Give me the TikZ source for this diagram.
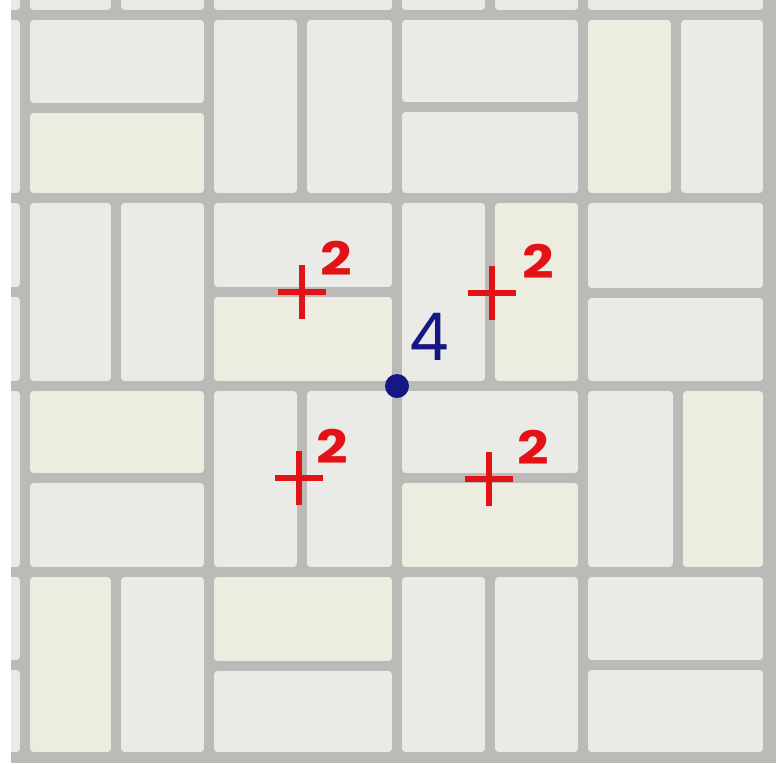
\documentclass[tikz,border=0pt]{standalone}
\usepackage{fontspec}
\setmainfont{Poppins}
\definecolor{grout}{RGB}{188,186,183}
\definecolor{tw}{RGB}{234,234,231}
\definecolor{ty}{RGB}{237,236,225}
\definecolor{pred}{RGB}{226,18,22}
\definecolor{pblue}{RGB}{22,22,132}
\newcommand\tilerect[5]{\fill[#5, rounded corners=3pt] (#1+5.2,#2+5.2) rectangle (#3-5.2,#4-5.2);}
\begin{document}
\begin{tikzpicture}[x=1pt,y=-1pt,
  plusmark/.style={draw=pred, line width=6.5pt},
  sqlabel/.style={text=pred, font=\fontsize{46}{46}\selectfont\bfseries, inner sep=0pt, xscale=1.2},
  ptlabel/.style={text=pblue, font=\fontsize{66}{66}\selectfont, inner sep=0pt, xscale=0.95}]
\useasboundingbox (0,0) rectangle (776,763);
\fill[white] (0,0) rectangle (776,763);
\begin{scope}
\clip (11,0) rectangle (776,763);
\fill[grout] (11,0) rectangle (776,763);
% partial row above
\tilerect{25}{-200}{116}{15}{tw}
\tilerect{116}{-200}{209}{15}{tw}
\tilerect{209}{-200}{397}{15}{tw}
\tilerect{397}{-200}{490}{15}{tw}
\tilerect{490}{-200}{583}{15}{tw}
\tilerect{583}{-200}{768}{15}{tw}
% partial column on the left
\tilerect{-160}{15}{25}{198}{tw}
\tilerect{-160}{198}{25}{292}{tw}
\tilerect{-160}{292}{25}{386}{tw}
\tilerect{-160}{386}{25}{572}{tw}
\tilerect{-160}{572}{25}{665}{tw}
\tilerect{-160}{665}{25}{757}{tw}
\tilerect{-160}{-200}{25}{15}{tw}
% row 1
\tilerect{25}{15}{209}{108}{tw}
\tilerect{25}{108}{209}{198}{ty}
\tilerect{209}{15}{302}{198}{tw}
\tilerect{302}{15}{397}{198}{tw}
\tilerect{397}{15}{583}{107}{tw}
\tilerect{397}{107}{583}{198}{tw}
\tilerect{583}{15}{676}{198}{ty}
\tilerect{676}{15}{768}{198}{tw}
% row 2
\tilerect{25}{198}{116}{386}{tw}
\tilerect{116}{198}{209}{386}{tw}
\tilerect{209}{198}{397}{292}{tw}
\tilerect{209}{292}{397}{386}{ty}
\tilerect{397}{198}{490}{386}{tw}
\tilerect{490}{198}{583}{386}{ty}
\tilerect{583}{198}{768}{293}{tw}
\tilerect{583}{293}{768}{386}{tw}
% row 3
\tilerect{25}{386}{209}{478}{ty}
\tilerect{25}{478}{209}{572}{tw}
\tilerect{209}{386}{302}{572}{tw}
\tilerect{302}{386}{397}{572}{tw}
\tilerect{397}{386}{583}{478}{tw}
\tilerect{397}{478}{583}{572}{ty}
\tilerect{583}{386}{678}{572}{tw}
\tilerect{678}{386}{768}{572}{ty}
% row 4
\tilerect{25}{572}{116}{757}{ty}
\tilerect{116}{572}{209}{757}{tw}
\tilerect{209}{572}{397}{666}{ty}
\tilerect{209}{666}{397}{757}{tw}
\tilerect{397}{572}{490}{757}{tw}
\tilerect{490}{572}{583}{757}{tw}
\tilerect{583}{572}{768}{665}{tw}
\tilerect{583}{665}{768}{757}{tw}
\end{scope}
% plus marks
\coordinate (p1) at (302,292);
\coordinate (p2) at (492,293);
\coordinate (p3) at (299,478);
\coordinate (p4) at (489,479);
\foreach \p in {p1,p2,p3,p4}{
  \draw[plusmark] ([xshift=-24pt]\p) -- ([xshift=24pt]\p);
  \draw[plusmark] ([yshift=-27pt]\p) -- ([yshift=27pt]\p);
}
\node[sqlabel] (s1) at (336,258) {2};
\node[sqlabel] (s2) at (538,261) {2};
\node[sqlabel] (s3) at (332,446) {2};
\node[sqlabel] (s4) at (533,447) {2};
% point
\fill[pblue] (397,386) circle (12);
\coordinate (pt) at (397,386);
\node[ptlabel] (n4) at (429,337) {4};
\end{tikzpicture}
\end{document}
